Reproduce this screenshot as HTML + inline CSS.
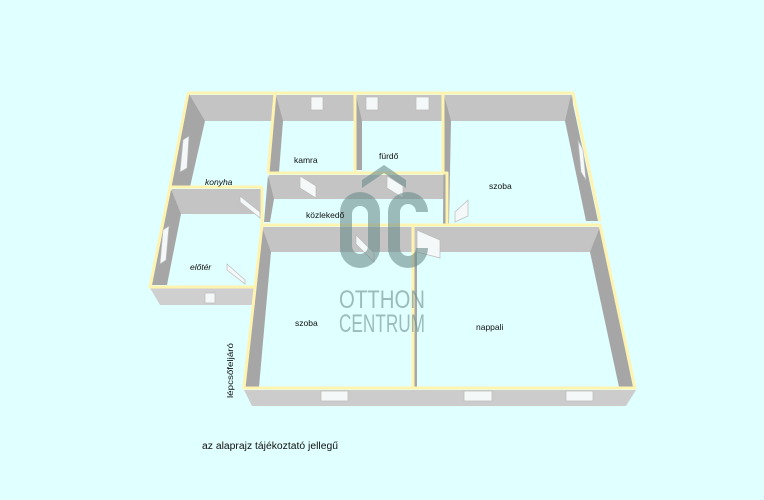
<!DOCTYPE html>
<html><head><meta charset="utf-8"><style>
html,body{margin:0;padding:0;background:#e0ffff;}
svg{display:block}
text{font-family:"Liberation Sans",sans-serif;}
</style></head><body>
<svg width="764" height="500" viewBox="0 0 764 500" xmlns="http://www.w3.org/2000/svg">
<rect width="764" height="500" fill="#e0ffff"/>
<g fill="#c4c4c4">
 <rect x="189" y="95" width="384" height="26"/>
 <rect x="172" y="189" width="90" height="25"/>
 <rect x="269" y="175" width="177" height="24"/>
 <rect x="263" y="227" width="337" height="25"/>
</g>
<g fill="#a6a6a6">
 <polygon points="189,94 205,121 190,187 171,187"/>
 <polygon points="171,189 181,214 167,285 152,285"/>
 <polygon points="276,95 283,121 279,172 269,172"/>
 <polygon points="356,95 362,121 362,170 356,170"/>
 <polygon points="444,95 451,121 449,224 443,224"/>
 <polygon points="571,95 598,221 586,221 565,121"/>
 <polygon points="262,227 271,252 259,387 245,387"/>
 <polygon points="600,227 633,387 619,387 590,252"/>
 <polygon points="413,252 417,252 417,387 413,387"/>
 <polygon points="268,175 274,199 270,222 264,222"/>
</g>
<polygon points="150,288 255,288 255,305 160,305" fill="#cfcfcf"/>
<polygon points="244,390 636,390 626,406 252,406" fill="#cccccc"/>
<g fill="none" stroke="#fff3b0" stroke-width="3" stroke-linejoin="round">
 <polyline points="188,93 573,93 600,221"/>
 <polyline points="188,93 170,187 150,287 255,287"/>
 <polyline points="170,187 262,187"/>
 <polyline points="275,93 268,173"/>
 <polyline points="355,93 355,172"/>
 <polyline points="443,93 443,172"/>
 <polyline points="268,173 447,173 447,225"/>
 <polyline points="262,187 262,225"/>
 <polyline points="262,225 600,225 635,388 244,388 262,225"/>
 <polyline points="413,225 413,388"/>
</g>
<g fill="#f4f8f8" stroke="#bbb" stroke-width="0.7">
 <rect x="311" y="97" width="12" height="13"/>
 <rect x="366" y="97" width="12" height="13"/>
 <rect x="416" y="97" width="13" height="13"/>
 <rect x="321" y="391" width="27" height="10"/>
 <rect x="464" y="391" width="28" height="10"/>
 <rect x="566" y="391" width="27" height="10"/>
 <polygon points="183,140 189,136 187,168 180,172"/>
 <polygon points="163,230 169,226 166,260 160,264"/>
 <polygon points="578,140 583,150 586,180 581,172"/>
 <polygon points="227,264 245,280 245,284 227,270"/>
 <polygon points="240,196 260,212 260,218 240,202"/>
 <polygon points="300,176 316,186 316,198 300,188"/>
 <polygon points="387,176 403,186 403,198 387,188"/>
 <polygon points="455,212 468,200 468,216 455,222"/>
 <polygon points="356,235 374,253 374,262 356,244"/>
 <polygon points="417,230 440,240 440,258 417,252"/>
 <polygon points="205,293 215,293 215,303 205,303"/>
</g>
<g fill="#6d8c8c" fill-opacity="0.6">
 <polygon points="362,180 384,165 406,180 406,188 384,173 362,188"/>
 <path d="M340,212 a20,20 0 0 1 40,0 v36 a20,20 0 0 1 -40,0 z M352,214 v32 a8,8 0 0 0 16,0 v-32 a8,8 0 0 0 -16,0 z" fill-rule="evenodd"/>
 <path d="M428,212 a20,20 0 0 0 -40,0 v36 a20,20 0 0 0 40,0 h-12 a8,8 0 0 1 -16,0 v-36 a8,8 0 0 1 16,0 z"/>
</g>
<g fill="#6d8c8c" fill-opacity="0.6" font-size="25">
 <text x="339" y="308" textLength="86" lengthAdjust="spacingAndGlyphs">OTTHON</text>
 <text x="339" y="332" textLength="86" lengthAdjust="spacingAndGlyphs">CENTRUM</text>
</g>
<g fill="#111" font-size="8.5">
 <text x="205" y="185" font-style="italic">konyha</text>
 <text x="294" y="163">kamra</text>
 <text x="379" y="159">fürdő</text>
 <text x="306" y="218">közlekedő</text>
 <text x="489" y="189">szoba</text>
 <text x="190" y="270" font-style="italic">előtér</text>
 <text x="295" y="326">szoba</text>
 <text x="476" y="330">nappali</text>
 <text transform="translate(233,398) rotate(-90)" textLength="55" lengthAdjust="spacingAndGlyphs">lépcsőfeljáró</text>
 <text x="202" y="449" font-size="10" textLength="136" lengthAdjust="spacingAndGlyphs">az alaprajz tájékoztató jellegű</text>
</g>
</svg>
</body></html>
